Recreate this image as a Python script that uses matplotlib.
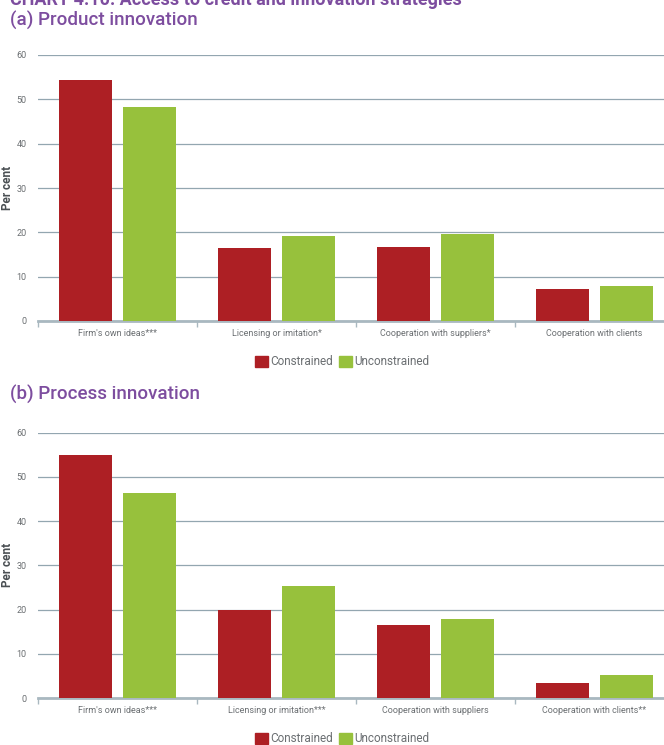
import numpy as np
import matplotlib.pyplot as plt
from matplotlib.patches import Patch

# data
cats_a = ["Firm's own ideas***", "Licensing or imitation*", "Cooperation with suppliers*", "Cooperation with clients"]
constr_a = [54.4, 16.5, 16.6, 7.2]
unconstr_a = [48.3, 19.1, 19.6, 7.9]

cats_b = ["Firm's own ideas***", "Licensing or imitation***", "Cooperation with suppliers", "Cooperation with clients**"]
constr_b = [54.9, 20.0, 16.5, 3.4]
unconstr_b = [46.3, 25.3, 17.9, 5.2]

series = ["Constrained", "Unconstrained"]
RED = '#ad1f24'
GREEN = '#97c13c'
PURPLE = '#7d4d9f'
GRID = '#93a6b0'
TXT = '#6b6f72'

plt.rcParams['font.family'] = ['Roboto', 'DejaVu Sans']

fig = plt.figure(figsize=(6.64, 7.45), dpi=100)


def panel(rect, cats, c, u):
    ax = fig.add_axes(rect)
    x = np.arange(len(cats))
    ax.bar(x - 0.2, c, 0.33, color=RED, zorder=3)
    ax.bar(x + 0.2, u, 0.33, color=GREEN, zorder=3)
    ax.set_xlim(-0.5, 3.5)
    ax.set_ylim(0, 60)
    ax.set_yticks(np.arange(0, 61, 10))
    ax.yaxis.grid(True, color=GRID, lw=0.9, zorder=0)
    for s in ['top', 'right', 'left']:
        ax.spines[s].set_visible(False)
    ax.spines['bottom'].set_color('#a9b8c0')
    ax.spines['bottom'].set_linewidth(2)
    ax.tick_params(axis='y', length=0, labelsize=6.5, labelcolor=TXT, pad=8)
    ax.set_xticks(np.arange(-0.5, 3.6, 1))
    ax.set_xticklabels([])
    ax.tick_params(axis='x', which='major', length=4, color='#a9b8c0', width=1)
    ax.set_xticks(x, minor=True)
    ax.set_xticklabels(cats, minor=True)
    ax.tick_params(axis='x', which='minor', length=0, labelsize=6.5, labelcolor=TXT, pad=6)
    ax.set_ylabel("Per cent", fontsize=8.5, fontweight='bold', color='#4a4f53')
    ax.yaxis.set_label_coords(-24/636, 0.5)
    return ax


panel([38/664, 1-321/745, 636/664, 266/745], cats_a, constr_a, unconstr_a)
panel([38/664, 1-698/745, 636/664, 265.3/745], cats_b, constr_b, unconstr_b)

fig.text(10/664, 1-5/745, "CHART 4.10: Access to credit and innovation strategies",
         fontsize=13, color=PURPLE, va='baseline', fontweight='bold')
fig.text(10/664, 1-20/745, "(a) Product innovation", fontsize=13.5, color=PURPLE,
         va='center', fontweight='medium')
fig.text(10/664, 1-394/745, "(b) Process innovation", fontsize=13.5, color=PURPLE,
         va='center', fontweight='medium')

handles = [Patch(color=RED), Patch(color=GREEN)]
for yy in [362, 739]:
    fig.legend(handles, series, loc='center', bbox_to_anchor=(342/664, 1-yy/745),
               ncol=2, frameon=False, fontsize=8.5, labelcolor=TXT,
               handlelength=1.1, handleheight=1.1, handletextpad=0.2, columnspacing=0.5)

fig.savefig('out.png', dpi=100)
